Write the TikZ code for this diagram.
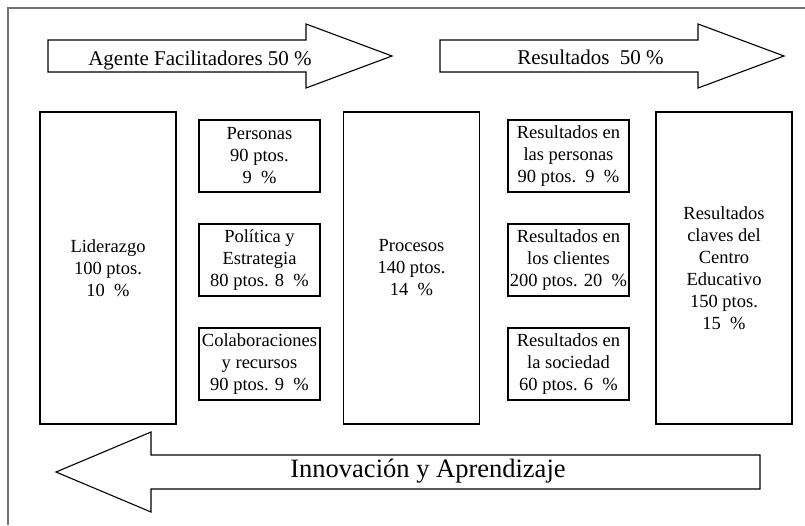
\documentclass[tikz,border=0pt]{standalone}
\usepackage{fontspec}
\setmainfont{Liberation Serif}
\usetikzlibrary{%
    positioning
}
\tikzset{blockarrow/.style = {draw, line width=1.1pt, fill=white, line join=miter}}

\begin{document}
\begin{tikzpicture}[
    x=1pt, y=-1pt,
    boxtext/.style = {draw, line width=1.1pt, inner sep=0pt, outer sep=0pt, align=center,
        font=\fontsize{18.5}{22}\selectfont},
    tallbox/.style = {boxtext, minimum width=136pt, minimum height=312pt},
    smallbox/.style = {boxtext, minimum width=121pt, minimum height=72pt},
    arrowtext/.style = {inner sep=0pt, anchor=base}]
    \useasboundingbox (0,0) rectangle (805,525);
    \draw[black!55, line width=1.3pt] (8,525) -- (8,8) -- (805,8);

    % arrows
    \draw[blockarrow] (48,40) -- (306,40) -- (306,24) -- (392,56)
        -- (306,88) -- (306,72) -- (48,72) -- cycle;
    \draw[blockarrow] (440,40) -- (698,40) -- (698,24) -- (784,56)
        -- (698,88) -- (698,72) -- (440,72) -- cycle;
    \draw[blockarrow] (760,455) -- (151,455) -- (151,432) -- (56,472)
        -- (151,512) -- (151,489) -- (760,489) -- cycle;
    \node[arrowtext, font=\fontsize{21}{25}\selectfont] (agentes) at (200,65)
        {Agente Facilitadores 50 \%};
    \node[arrowtext, font=\fontsize{21}{25}\selectfont] (resultados) at (590.5,64)
        {Resultados\ \ 50 \%};
    \node[arrowtext, font=\fontsize{26.5}{30}\selectfont] (innovacion) at (428,477)
        {Innovación y Aprendizaje};

    % criterios
    \node[tallbox] (liderazgo) at (108,268) {Liderazgo\\100 ptos.\\10\ \ \%};
    \node[tallbox] (procesos) at (411.5,268) {Procesos\\140 ptos.\\14\ \ \%};
    \node[tallbox] (claves) at (724,268)
        {Resultados\\claves del\\Centro\\Educativo\\150 ptos.\\15\ \ \%};

    \node[smallbox] (personas) at (259.5,156) {Personas\\90 ptos.\\9\ \ \%};
    \node[smallbox] (politica) [below=32pt of personas]
        {Política y\\Estrategia\\80 ptos. 8\ \ \%};
    \node[smallbox] (colaboraciones) [below=32pt of politica]
        {Colaboraciones\\y recursos\\90 ptos. 9\ \ \%};

    \node[smallbox] (rpersonas) at (568.5,156)
        {Resultados en\\las personas\\90 ptos.\ \ 9\ \ \%};
    \node[smallbox] (rclientes) [below=32pt of rpersonas]
        {Resultados en\\los clientes\\200 ptos. 20\ \ \%};
    \node[smallbox] (rsociedad) [below=32pt of rclientes]
        {Resultados en\\la sociedad\\60 ptos. 6\ \ \%};
\end{tikzpicture}
\end{document}
